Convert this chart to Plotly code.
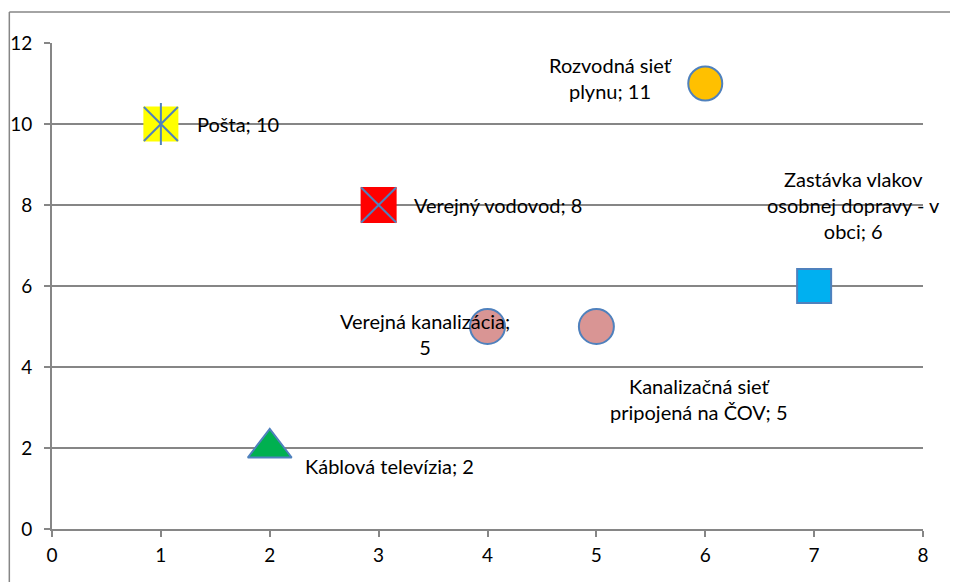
import plotly.graph_objects as go

# údaje z grafu
nazvy = ["Pošta", "Verejný vodovod", "Rozvodná sieť<br>plynu", "Zastávka vlakov<br>osobnej dopravy - v<br>obci",
         "Verejná kanalizácia;<br>5", "Kanalizačná sieť<br>pripojená na ČOV", "Káblová televízia"]
x_hodnoty = [1, 3, 6, 7, 4, 5, 2]
y_hodnoty = [10, 8, 11, 6, 5, 5, 2]
x_ticks = [0, 1, 2, 3, 4, 5, 6, 7, 8]
y_ticks = [0, 2, 4, 6, 8, 10, 12]

modra = "#4F81BD"
siva = "#868686"

fig = go.Figure()

# Pošta - žltý štvorec s hviezdičkou
fig.add_trace(go.Scatter(x=[x_hodnoty[0]], y=[y_hodnoty[0]], mode="markers",
                         marker=dict(symbol="square", size=35, color="#FFFF00", line=dict(width=0))))
fig.add_trace(go.Scatter(x=[x_hodnoty[0]], y=[y_hodnoty[0]], mode="markers",
                         marker=dict(symbol="x-thin", size=34, line=dict(width=2, color=modra))))
fig.add_trace(go.Scatter(x=[x_hodnoty[0]], y=[y_hodnoty[0]], mode="markers",
                         marker=dict(symbol="line-ns", size=30, line=dict(width=2, color=modra))))
# Verejný vodovod - červený štvorec s krížikom
fig.add_trace(go.Scatter(x=[x_hodnoty[1]], y=[y_hodnoty[1]], mode="markers",
                         marker=dict(symbol="square", size=36, color="#FF0000", line=dict(width=0))))
fig.add_trace(go.Scatter(x=[x_hodnoty[1]], y=[y_hodnoty[1]], mode="markers",
                         marker=dict(symbol="x-thin", size=35, line=dict(width=2, color=modra))))
# Rozvodná sieť plynu
fig.add_trace(go.Scatter(x=[x_hodnoty[2]], y=[y_hodnoty[2]], mode="markers",
                         marker=dict(symbol="circle", size=34, color="#FFC000", line=dict(width=2, color=modra))))
# Zastávka vlakov
fig.add_trace(go.Scatter(x=[x_hodnoty[3]], y=[y_hodnoty[3]], mode="markers",
                         marker=dict(symbol="square", size=34, color="#00B0F0", line=dict(width=2, color=modra))))
# kanalizácia
fig.add_trace(go.Scatter(x=x_hodnoty[4:6], y=y_hodnoty[4:6], mode="markers",
                         marker=dict(symbol="circle", size=35, color="#D99594", line=dict(width=2, color=modra))))
# Káblová televízia
fig.add_trace(go.Scatter(x=[x_hodnoty[6]], y=[y_hodnoty[6]], mode="markers",
                         marker=dict(symbol="triangle-up", size=38, color="#00B050", line=dict(width=2, color=modra))))

# popisky (posun v pixeloch od bodu)
posuny = [(34, 0, "left"), (33, 0, "left"), (-94, 6, "center"), (39, 81, "center"),
          (-63, -7, "center"), (103, -72, "center"), (33, -18, "left")]
for i, (dx, dy, zarovnanie) in enumerate(posuny):
    text = nazvy[i]
    if i != 4:
        text = f"{text}; {y_hodnoty[i]}"
    fig.add_annotation(x=x_hodnoty[i], y=y_hodnoty[i], text=text, showarrow=False,
                       xshift=dx, yshift=dy, xanchor=zarovnanie, align="center",
                       font=dict(size=20, color="black"))

# vonkajší rámik grafu
fig.add_shape(type="line", xref="paper", yref="paper", x0=-0.049, x1=1.1, y0=1.0638, y1=1.0638,
              line=dict(color=siva, width=1.5))
fig.add_shape(type="line", xref="paper", yref="paper", x0=-0.049, x1=-0.049, y0=-0.2, y1=1.0638,
              line=dict(color=siva, width=1.5))

fig.update_layout(
    width=950, height=574,
    margin=dict(l=44, r=35, t=35, b=53),
    paper_bgcolor="white", plot_bgcolor="white",
    showlegend=False,
    font=dict(family="Lato, Open Sans, sans-serif", size=20, color="black"),
)
fig.update_xaxes(range=[0, 8], tickvals=x_ticks, showgrid=False, zeroline=False,
                 showline=True, linecolor=siva, linewidth=2, automargin=False,
                 ticks="outside", ticklen=6, tickcolor=siva, tickwidth=1.5,
                 tickfont=dict(size=19), ticklabelstandoff=2)
fig.update_yaxes(range=[0, 12], tickvals=y_ticks, showgrid=True, gridcolor=siva, gridwidth=2,
                 zeroline=False, showline=True, linecolor=siva, linewidth=2, automargin=False,
                 ticks="outside", ticklen=6, tickcolor=siva, tickwidth=1.5,
                 tickfont=dict(size=19), ticklabelstandoff=8)

fig.write_html("out.html")
